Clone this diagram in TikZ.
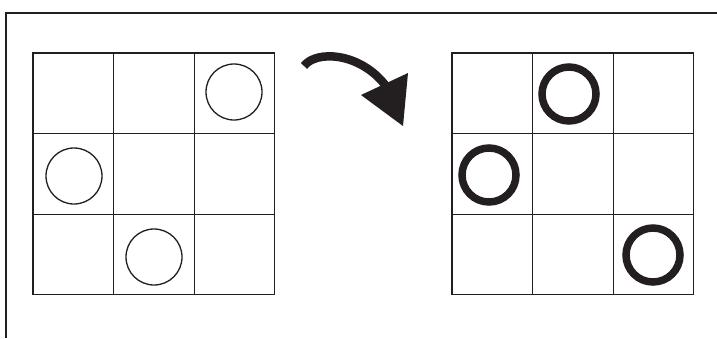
\documentclass[tikz,border=0pt]{standalone}
\usepackage{tikz}
\definecolor{ink}{HTML}{231F20}

\begin{document}
\begin{tikzpicture}[x=1pt, y=-1pt,
  gridline/.style={draw=ink, line width=1pt},
  gridframe/.style={draw=ink, line width=1.6pt},
  thinring/.style={draw=ink, line width=1.3pt},
  thickring/.style={draw=ink, line width=7.5pt}]
\useasboundingbox (0,0) rectangle (717,338);
% page frame
\draw[ink, line width=1.2pt] (6,338) -- (6,13) -- (717,13);
% the two 3x3 boards
\foreach \bx in {33,452} {
  \foreach \k in {1,2} {
    \draw[gridline] ({\bx+\k*80.5},53) -- ({\bx+\k*80.5},294.5);
    \draw[gridline] (\bx,{53+\k*80.5}) -- ({\bx+241.5},{53+\k*80.5});
  }
  \draw[gridframe] (\bx,53) rectangle ({\bx+241.5},294.5);
}
% rings before
\draw[thinring] (234,92) circle[radius=28];
\draw[thinring] (74,176) circle[radius=28];
\draw[thinring] (154,257) circle[radius=28];
% rings after
\draw[thickring] (569,94) circle[radius=27];
\draw[thickring] (489,175) circle[radius=27];
\draw[thickring] (653,255) circle[radius=27];
% curved arrow
\coordinate (tail) at (304,66);
\coordinate (neck) at (386,86);
\draw[ink, line width=8.5pt] (tail) .. controls (316,50) and (360,52) .. (neck);
\fill[ink] (361,95) -- (408,73) -- (403,126) -- cycle;
\end{tikzpicture}
\end{document}
